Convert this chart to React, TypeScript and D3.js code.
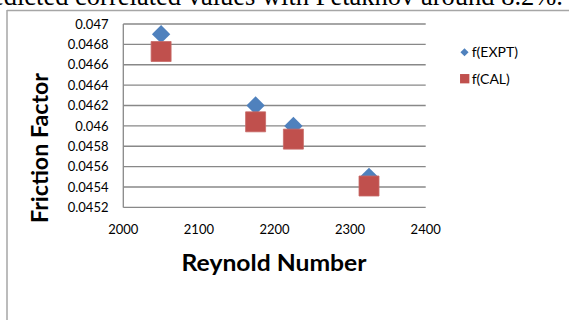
import React from "react";
import * as d3 from "d3";

// Reynolds number of each run
const reynolds = [2050, 2175, 2225, 2325];
// Measured friction factor
const fExpt = [0.0469, 0.0462, 0.046, 0.0455];
// Calculated (correlated) friction factor
const fCal = [0.04673, 0.04604, 0.04587, 0.04541];

const xTicks = [2000, 2100, 2200, 2300, 2400];
const yTicks = [0.0452, 0.0454, 0.0456, 0.0458, 0.046, 0.0462, 0.0464, 0.0466, 0.0468, 0.047];

const seriesNames = ["f(EXPT)", "f(CAL)"];
const seriesColors = ["#4F81BD", "#C0504D"];

const W = 569;
const H = 320;
const plot = { left: 123.3, right: 425.7, top: 24, bottom: 207.4 };

const sansFont = "Lato, 'Open Sans', sans-serif";

export default function App() {
  const x = d3.scaleLinear().domain([2000, 2400]).range([plot.left, plot.right]);
  const y = d3.scaleLinear().domain([0.0452, 0.047]).range([plot.bottom, plot.top]);

  const diamond = d3.symbol().type(d3.symbolDiamond2).size(215)();
  const square = d3.symbol().type(d3.symbolSquare).size(400)();
  const legendDiamond = d3.symbol().type(d3.symbolDiamond2).size(42)();
  const legendSquare = d3.symbol().type(d3.symbolSquare).size(87)();

  const fmtY = (v: number) => String(+v.toFixed(4));

  return (
    <div style={{ position: "absolute", left: 0, top: 0 }}>
      <svg width={W} height={H} style={{ display: "block", background: "#fff" }}>
        {/* closing line of the paragraph above the figure */}
        <text
          x={563}
          y={5}
          textAnchor="end"
          fontFamily="'Liberation Serif', 'Times New Roman', serif"
          fontSize={26.5}
          fill="#000"
        >
          predicted correlated values with Petakhov around 8.2%.
        </text>

        {/* chart frame */}
        <line x1={7} x2={W} y1={10.5} y2={10.5} stroke="#a6a6a6" strokeWidth={1.5} />
        <line x1={7} x2={7} y1={10} y2={H} stroke="#a6a6a6" strokeWidth={1.5} />

        {/* horizontal gridlines */}
        {yTicks.map((t) => (
          <line
            key={"g" + t}
            x1={plot.left}
            x2={plot.right}
            y1={y(t)}
            y2={y(t)}
            stroke="#888"
            strokeWidth={1.3}
          />
        ))}
        {/* value axis line */}
        <line x1={plot.left} x2={plot.left} y1={plot.top} y2={plot.bottom} stroke="#888" strokeWidth={1.3} />

        {/* y tick labels */}
        {yTicks.map((t) => (
          <text
            key={"yl" + t}
            x={108.5}
            y={y(t)}
            dy="0.36em"
            textAnchor="end"
            fontFamily={sansFont}
            fontSize={13}
            fill="#000"
          >
            {fmtY(t)}
          </text>
        ))}

        {/* x tick labels */}
        {xTicks.map((t) => (
          <text
            key={"xl" + t}
            x={x(t)}
            y={234.3}
            textAnchor="middle"
            fontFamily={sansFont}
            fontSize={13}
            fill="#000"
          >
            {t}
          </text>
        ))}

        {/* axis titles */}
        <text
          x={274}
          y={271}
          textAnchor="middle"
          fontFamily={sansFont}
          fontWeight="bold"
          fontSize={23}
          textLength={185}
          lengthAdjust="spacingAndGlyphs"
          fill="#000"
        >
          Reynold Number
        </text>
        <text
          transform="translate(48.3,148) rotate(-90)"
          textAnchor="middle"
          fontFamily={sansFont}
          fontWeight="bold"
          fontSize={23}
          textLength={150}
          lengthAdjust="spacingAndGlyphs"
          fill="#000"
        >
          Friction Factor
        </text>

        {/* measured series */}
        {reynolds.map((r, i) => (
          <path
            key={"e" + i}
            d={diamond || ""}
            transform={`translate(${x(r)},${y(fExpt[i])})`}
            fill={seriesColors[0]}
          />
        ))}
        {/* calculated series */}
        {reynolds.map((r, i) => (
          <path
            key={"c" + i}
            d={square || ""}
            transform={`translate(${x(r)},${y(fCal[i])})`}
            fill={seriesColors[1]}
            stroke="#c76a67"
            strokeWidth={0.8}
          />
        ))}

        {/* legend */}
        <path d={legendDiamond || ""} transform="translate(464.5,52.3)" fill={seriesColors[0]} />
        <text x={471.7} y={57.3} fontFamily={sansFont} fontSize={14} fill="#000">
          {seriesNames[0]}
        </text>
        <path d={legendSquare || ""} transform="translate(464.7,78.7)" fill={seriesColors[1]} />
        <text x={471.7} y={83.5} fontFamily={sansFont} fontSize={14} fill="#000">
          {seriesNames[1]}
        </text>
      </svg>
    </div>
  );
}
